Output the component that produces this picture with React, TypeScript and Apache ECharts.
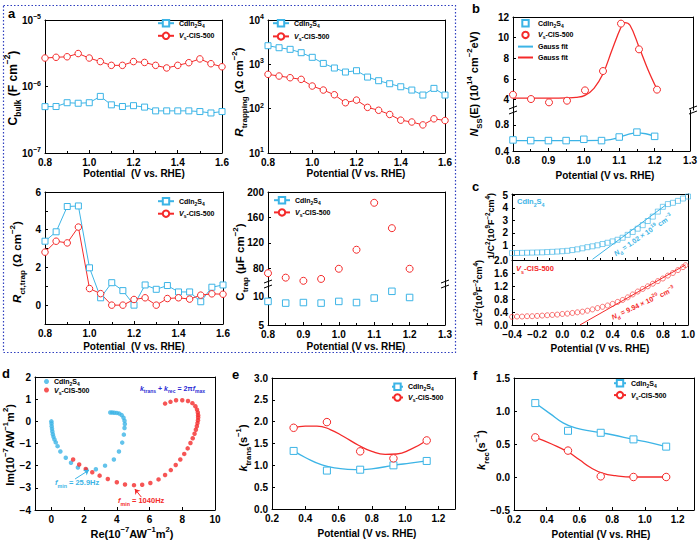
import React, { useEffect, useRef } from 'react';
import * as echarts from 'echarts';

const BLUE = '#3cb4e6';
const RED = '#f42a2a';
const FRAME_BLUE = '#2f3fbf';
const NOTE_BLUE = '#2b2bd4';
const FONT = '"Liberation Sans", Arial, Helvetica, sans-serif';

// ---- (a) impedance-derived quantities vs potential ----
const potA = [0.8, 0.85, 0.9, 0.95, 1.0, 1.05, 1.1, 1.15, 1.2, 1.25, 1.3, 1.35, 1.4, 1.45, 1.5, 1.55, 1.6];
const cbulkCIS = [4.98e-7, 5.0e-7, 5.7e-7, 5.6e-7, 5.7e-7, 7.1e-7, 5.3e-7, 5.0e-7, 5.15e-7, 4.9e-7, 4.3e-7, 4.3e-7, 4.3e-7, 4.3e-7, 4.2e-7, 4.0e-7, 4.2e-7];
const cbulkVs = [2.68e-6, 2.75e-6, 2.8e-6, 3.13e-6, 2.68e-6, 2.37e-6, 2.08e-6, 2.08e-6, 2.37e-6, 2.3e-6, 2.08e-6, 1.9e-6, 2.08e-6, 2.28e-6, 2.6e-6, 2.2e-6, 1.98e-6];
const rtrapCIS = [2630, 2370, 2180, 1830, 1440, 1050, 826, 670, 718, 516, 427, 365, 312, 263, 203, 287, 203];
const rtrapVs = [595, 545, 499, 458, 324, 263, 206, 136, 156, 107, 92, 74, 55, 50, 43, 59, 54];
const rctCIS = [3.39, 3.89, 5.23, 5.26, 1.98, 0.39, 1.19, 0.77, 0, 1.07, 0.84, 1.04, 0.7, 0.7, 0.18, 0.95, 1.07];
const rctVs = [2.81, 3.39, 3.3, 4.14, 0.88, 0.61, 0, 0, 0.3, 0.39, 0, 0.35, 0.39, 0.32, 0.53, 0.6, 0.58];
const potTrap = [0.8, 0.85, 0.9, 0.95, 1.0, 1.05, 1.1, 1.15, 1.2];
const ctrapCIS = [9.2, 8.9, 9.0, 8.9, 9.2, 9.0, 9.8, 11.0, 9.9];
const ctrapVs = [72, 65, 60, 63, 79, 109, 183, 143, 79];

// ---- (b) surface-state density ----
const nssCIS = [0.57, 0.56, 0.56, 0.56, 0.58, 0.56, 0.615, 0.69, 0.625];
const nssVs = [4.48, 4.06, 3.74, 3.9, 4.9, 6.77, 11.36, 8.87, 4.97];
const gaussPotCIS = [0.8, 0.9, 1.0, 1.05, 1.075, 1.1, 1.125, 1.15, 1.175, 1.2];
const gaussCIS = [0.56, 0.56, 0.56, 0.562, 0.575, 0.61, 0.655, 0.68, 0.665, 0.625];
const gaussPotVs = [0.8, 0.85, 0.9, 0.95, 0.975, 1.0, 1.025, 1.05, 1.075, 1.1, 1.11, 1.125, 1.15, 1.175, 1.2];
const gaussVs = [4.15, 4.15, 4.15, 4.17, 4.22, 4.42, 5.1, 6.5, 8.8, 11.0, 11.45, 11.2, 9.1, 6.9, 5.0];

// ---- (c) Mott-Schottky ----
const msPotCIS = [-0.4, -0.36, -0.32, -0.28, -0.24, -0.2, -0.16, -0.12, -0.08, -0.04, 0, 0.04, 0.08, 0.12, 0.16, 0.2, 0.24, 0.28, 0.32, 0.36, 0.4, 0.44, 0.48, 0.52, 0.56, 0.6, 0.64, 0.68, 0.72, 0.76, 0.8, 0.84, 0.88, 0.92, 0.96, 1.0];
const msCIS = [0.4, 0.41, 0.42, 0.43, 0.44, 0.45, 0.46, 0.48, 0.5, 0.52, 0.55, 0.58, 0.64, 0.7, 0.78, 0.87, 0.94, 1.02, 1.12, 1.22, 1.33, 1.46, 1.62, 1.85, 2.08, 2.34, 2.62, 2.95, 3.3, 3.7, 4.08, 4.3, 4.4, 4.55, 4.74, 4.9];
const msPotVs = [-0.4, -0.36, -0.32, -0.28, -0.24, -0.2, -0.16, -0.12, -0.08, -0.04, 0, 0.04, 0.08, 0.12, 0.16, 0.2, 0.24, 0.28, 0.32, 0.36, 0.4, 0.44, 0.48, 0.52, 0.56, 0.6, 0.64, 0.68, 0.72, 0.76, 0.8, 0.84, 0.88, 0.92, 0.96, 0.98];
const msVs = [0.25, 0.26, 0.26, 0.27, 0.27, 0.28, 0.29, 0.3, 0.31, 0.32, 0.34, 0.35, 0.37, 0.39, 0.41, 0.44, 0.48, 0.52, 0.56, 0.6, 0.65, 0.71, 0.77, 0.85, 0.94, 1.03, 1.11, 1.19, 1.27, 1.35, 1.43, 1.52, 1.6, 1.69, 1.78, 1.84];
const fitPotCIS = [0.24, 0.82];
const fitCIS = [-0.1, 4.2];
const fitPotVs = [0.14, 0.98];
const fitVs = [0, 1.85];

// ---- (d) IMPS Nyquist ----
const reCIS = [0, 0.01, 0.02, 0.04, 0.06, 0.09, 0.13, 0.19, 0.27, 0.38, 0.55, 0.88, 1.2, 1.62, 2.14, 2.72, 3.28, 3.82, 4.13, 4.33, 4.43, 4.47, 4.49, 4.47, 4.41, 4.3, 4.15, 4.0, 3.85, 3.72, 3.6];
const imCIS = [0, -0.1, -0.22, -0.34, -0.46, -0.58, -0.7, -0.82, -0.95, -1.12, -1.36, -1.64, -1.87, -2.08, -2.18, -2.16, -2.0, -1.72, -1.36, -0.96, -0.6, -0.3, -0.12, 0.03, 0.16, 0.28, 0.35, 0.38, 0.39, 0.4, 0.4];
const reVs = [1.33, 1.7, 2.1, 2.5, 2.95, 3.45, 4.0, 4.5, 5.05, 5.55, 6.05, 6.55, 6.95, 7.3, 7.6, 7.88, 8.12, 8.33, 8.5, 8.64, 8.75, 8.83, 8.89, 8.93, 8.96, 8.97, 8.97, 8.95, 8.9, 8.8, 8.62, 8.35, 8.0, 7.62, 7.28, 6.95];
const imVs = [-1.72, -1.95, -2.15, -2.3, -2.45, -2.6, -2.75, -2.85, -2.88, -2.86, -2.78, -2.62, -2.42, -2.2, -1.97, -1.72, -1.47, -1.22, -0.98, -0.76, -0.56, -0.38, -0.22, -0.08, 0.05, 0.17, 0.28, 0.4, 0.53, 0.68, 0.82, 0.92, 0.95, 0.95, 0.88, 0.8];

// ---- (e, f) rate constants ----
const potEF = [0.33, 0.53, 0.73, 0.93, 1.13];
const ktransCIS = [1.33, 0.88, 0.9, 1.0, 1.1];
const ktransVs = [1.86, 1.99, 1.32, 1.16, 1.57];
const krecCIS = [1.12, 0.7, 0.67, 0.57, 0.46];
const krecVs = [0.6, 0.4, 0.01, 0.0, 0.0];
const ktransFitPotCIS = [0.33, 0.4, 0.5, 0.6, 0.7, 0.8, 0.93, 1.03, 1.13];
const ktransFitCIS = [1.33, 1.18, 1.01, 0.93, 0.9, 0.92, 1.0, 1.05, 1.1];
const ktransFitPotVs = [0.33, 0.4, 0.47, 0.55, 0.63, 0.72, 0.8, 0.88, 0.95, 1.03, 1.13];
const ktransFitVs = [1.86, 1.9, 1.9, 1.82, 1.66, 1.46, 1.32, 1.25, 1.26, 1.36, 1.57];
const krecFitPotCIS = [0.33, 0.42, 0.5, 0.58, 0.68, 0.8, 0.93, 1.03, 1.13];
const krecFitCIS = [1.12, 0.96, 0.82, 0.74, 0.69, 0.64, 0.57, 0.52, 0.46];
const krecFitPotVs = [0.33, 0.43, 0.53, 0.6, 0.67, 0.74, 0.82, 0.93, 1.03, 1.13];
const krecFitVs = [0.6, 0.5, 0.38, 0.26, 0.14, 0.06, 0.02, 0.0, 0.0, 0.0];

const zip = (xs: number[], ys: number[]) => xs.map((x, i) => [x, ys[i]]);

const LEGEND_TEXT: Record<string, string> = {
  cis: '{n|CdIn}{s|2}{n|S}{s|4}',
  vs: '{i|V}{s|s}{n|-CIS-500}',
  fit1: '{n|Gauss fit}',
  fit2: '{n|Gauss fit}',
};

const minus = (v: number) => (v < 0 ? '\u2212' : '');
const f1 = (v: number) => minus(v) + Math.abs(v).toFixed(1);
const f0 = (v: number) => minus(v) + Math.abs(v).toFixed(0);
const fStep = (step: number) => (v: number) =>
  Math.abs(v / step - Math.round(v / step)) < 1e-6 ? f1(v) : '';
const fEven = (v: number) => (v >= 0 && Math.round(v) % 2 === 0 ? String(Math.round(v)) : '');
const fLog = (v: number) => {
  const e = Math.round(Math.log10(v));
  return `{n|10}{p|${minus(e)}${Math.abs(e)}}`;
};

const TICK_FONT = { color: '#000', fontFamily: FONT, fontSize: 10, fontWeight: 'bold' as const };
const AXIS_RICH = {
  n: { ...TICK_FONT, lineHeight: 14 },
  p: { ...TICK_FONT, fontSize: 7, verticalAlign: 'top' as const },
};

type Ax = {
  min: number; max: number; log?: boolean; interval?: number;
  labels?: number[]; fmt?: (v: number) => string; minor?: number;
};

function richFor(size: number, color: string) {
  const base = { fontFamily: FONT, fontWeight: 'bold', fill: color, color };
  const lh = Math.round(size * 1.6);
  const small = Math.max(5, Math.round(size * 0.7 * 10) / 10);
  return {
    n: { ...base, fontSize: size, lineHeight: lh },
    i: { ...base, fontSize: size, fontStyle: 'italic', lineHeight: lh },
    s: { ...base, fontSize: small, verticalAlign: 'bottom' },
    p: { ...base, fontSize: small, verticalAlign: 'top' },
  };
}

function txt(x: number, y: number, text: string, size: number, color = '#000', rotation = 0, align = 'center') {
  return {
    type: 'text', x, y, rotation, z: 50,
    style: {
      text, rich: richFor(size, color), font: `bold ${size}px ${FONT}`, fill: color,
      align, verticalAlign: 'middle', textAlign: align, textVerticalAlign: 'middle',
    },
  };
}

function breakMark(x: number, y: number) {
  return {
    type: 'group', x, y, z: 60,
    children: [
      { type: 'rect', shape: { x: -4, y: -3, width: 8, height: 6 }, style: { fill: '#fff' } },
      { type: 'line', shape: { x1: -4, y1: -1, x2: 4, y2: -4 }, style: { stroke: '#000', lineWidth: 1 } },
      { type: 'line', shape: { x1: -4, y1: 4, x2: 4, y2: 1 }, style: { stroke: '#000', lineWidth: 1 } },
    ],
  };
}

function buildOption() {
  const grid: any[] = [];
  const xAxis: any[] = [];
  const yAxis: any[] = [];
  const series: any[] = [];

  const axisOf = (g: number, a: Ax, position: string, primary: boolean, showLine = true, showLabels = true) => {
    const o: any = {
      gridIndex: g, type: a.log ? 'log' : 'value', position, min: a.min, max: a.max,
      splitLine: { show: false },
      axisLine: { show: showLine, onZero: false, lineStyle: { color: '#000', width: 1 } },
      axisTick: { show: primary && showLine, inside: true, length: 3, lineStyle: { color: '#000', width: 1 } },
      axisLabel: { show: primary && showLabels, margin: 4, ...TICK_FONT, rich: AXIS_RICH },
    };
    if (a.log) o.logBase = 10;
    if (a.interval != null) o.interval = a.interval;
    if (primary) {
      if (a.fmt) o.axisLabel.formatter = a.fmt;
      if (a.labels) {
        o.axisLabel.customValues = a.labels;
        o.axisTick.customValues = a.labels;
      }
      if (a.minor && showLine) o.minorTick = { show: true, splitNumber: a.minor, length: 2, lineStyle: { color: '#000', width: 1 } };
    }
    return o;
  };

  const panel = (rect: number[], xa: Ax, ya: Ax, edges = { top: true, bottom: true, labels: true }) => {
    grid.push({ left: rect[0], top: rect[1], width: rect[2], height: rect[3] });
    const g = grid.length - 1;
    const x = xAxis.length;
    xAxis.push(axisOf(g, xa, 'bottom', true, edges.bottom, edges.labels));
    xAxis.push(axisOf(g, xa, 'top', false, edges.top));
    const y = yAxis.length;
    yAxis.push(axisOf(g, ya, 'left', true));
    yAxis.push(axisOf(g, ya, 'right', false));
    return { x, y };
  };

  // hollow marker: white face, coloured 1px outline
  const lineS = (name: string, ax: { x: number; y: number }, xs: number[], ys: number[], color: string, symbol: string, size: number, extra: any = {}) => ({
    type: 'line', name, xAxisIndex: ax.x, yAxisIndex: ax.y, data: zip(xs, ys), color,
    symbol, symbolSize: size, showSymbol: symbol !== 'none',
    lineStyle: { color, width: 1 }, itemStyle: { color: '#fff', borderColor: color, borderWidth: 1 },
    z: 3, ...extra,
  });

  const UPPER = { top: true, bottom: false, labels: false };
  const LOWER = { top: false, bottom: true, labels: true };
  const noLine = (c: string, w = 1) => ({ lineStyle: { color: c, width: w, opacity: 0 } });

  // a: Cbulk
  const xa: Ax = { min: 0.8, max: 1.6, interval: 0.2, minor: 2, fmt: f1 };
  const a1 = panel([45, 20, 177, 133], xa, { min: 1e-7, max: 1e-5, log: true, fmt: fLog });
  series.push(lineS('a1:cis', a1, potA, cbulkCIS, BLUE, 'rect', 6));
  series.push(lineS('a1:vs', a1, potA, cbulkVs, RED, 'circle', 6.5));
  // a: Rtrapping
  const a2 = panel([268, 20, 177, 133], xa, { min: 10, max: 1e4, log: true, fmt: fLog });
  series.push(lineS('a2:cis', a2, potA, rtrapCIS, BLUE, 'rect', 6));
  series.push(lineS('a2:vs', a2, potA, rtrapVs, RED, 'circle', 6.5));
  // a: Rct,trap
  const a3 = panel([45, 192, 178, 132], xa, { min: -1, max: 6, interval: 1, fmt: fEven });
  series.push(lineS('a3:cis', a3, potA, rctCIS, BLUE, 'rect', 6));
  series.push(lineS('a3:vs', a3, potA, rctVs, RED, 'circle', 6.5));
  // a: Ctrap (broken axis)
  const xTrap: Ax = { min: 0.8, max: 1.3, interval: 0.1, minor: 2, fmt: f1 };
  const a4u = panel([268, 192, 177, 92], xTrap, { min: 55, max: 200, labels: [80, 120, 160, 200] }, UPPER);
  const a4l = panel([268, 284, 177, 41], xTrap, { min: 5, max: 12.3, labels: [5, 10] }, LOWER);
  series.push(lineS('a4:vs', a4u, potTrap, ctrapVs, RED, 'circle', 7, noLine(RED)));
  series.push(lineS('a4:cis', a4l, potTrap, ctrapCIS, BLUE, 'rect', 6.5, noLine(BLUE)));

  // b: Nss with Gaussian fits (broken axis)
  const xb: Ax = { min: 0.8, max: 1.3, interval: 0.1, minor: 2, fmt: f1 };
  const bu = panel([513, 17, 180, 93], xb, { min: 3, max: 12, labels: [4, 6, 8, 10, 12] }, UPPER);
  const bl = panel([513, 110, 180, 41], xb, { min: 0.4, max: 1.03, labels: [0.4, 0.8], fmt: f1 }, LOWER);
  series.push(lineS('b:cis', bl, potTrap, nssCIS, BLUE, 'rect', 6.5, { ...noLine(BLUE), z: 4 }));
  series.push(lineS('b:vs', bu, potTrap, nssVs, RED, 'circle', 7, { ...noLine(RED), z: 4 }));
  series.push(lineS('b:fit1', bl, gaussPotCIS, gaussCIS, BLUE, 'none', 0, { smooth: 0.4, lineStyle: { color: BLUE, width: 1.3 } }));
  series.push(lineS('b:fit2', bu, gaussPotVs, gaussVs, RED, 'none', 0, { smooth: 0.4, lineStyle: { color: RED, width: 1.3 } }));

  // c: Mott-Schottky (stacked)
  const xc: Ax = { min: -0.4, max: 1.0, interval: 0.2, minor: 2, fmt: f1 };
  const cu = panel([512, 194, 176, 66], xc, { min: -0.15, max: 5.1, labels: [1, 2, 3, 4, 5] }, { top: true, bottom: true, labels: false });
  const cl = panel([512, 260, 176, 65], xc, { min: 0, max: 2, interval: 0.4, fmt: f1 }, LOWER);
  series.push({
    type: 'scatter', name: 'c:cis', xAxisIndex: cu.x, yAxisIndex: cu.y, data: zip(msPotCIS, msCIS),
    symbol: 'rect', symbolSize: 5, itemStyle: { color: 'rgba(255,255,255,0)', borderColor: BLUE, borderWidth: 0.8 },
  });
  series.push(lineS('c:fitcis', cu, fitPotCIS, fitCIS, BLUE, 'none', 0));
  series.push({
    type: 'scatter', name: 'c:vs', xAxisIndex: cl.x, yAxisIndex: cl.y, data: zip(msPotVs, msVs),
    symbol: 'circle', symbolSize: 5, itemStyle: { color: 'rgba(255,255,255,0)', borderColor: RED, borderWidth: 0.8 },
  });
  series.push(lineS('c:fitvs', cl, fitPotVs, fitVs, RED, 'none', 0));

  // d: IMPS
  const d = panel([35, 377, 180, 133], { min: -1, max: 10, labels: [0, 2, 4, 6, 8, 10], fmt: f0 }, { min: -4, max: 2, interval: 1, fmt: f0 });
  series.push({
    type: 'scatter', name: 'd:cis', xAxisIndex: d.x, yAxisIndex: d.y, data: zip(reCIS, imCIS),
    symbol: 'circle', symbolSize: 4.5, itemStyle: { color: BLUE },
    markLine: {
      silent: true, symbol: ['none', 'arrow'], symbolSize: 5, label: { show: false },
      lineStyle: { color: BLUE, width: 1, type: 'solid' },
      data: [[{ coord: [1.45, -2.6] }, { coord: [2.3, -2.2] }]],
    },
  });
  series.push({
    type: 'scatter', name: 'd:vs', xAxisIndex: d.x, yAxisIndex: d.y, data: zip(reVs, imVs),
    symbol: 'circle', symbolSize: 4.5, itemStyle: { color: RED },
    markLine: {
      silent: true, symbol: ['none', 'arrow'], symbolSize: 5, label: { show: false },
      lineStyle: { color: RED, width: 1, type: 'solid' },
      data: [[{ coord: [5.5, -3.42] }, { coord: [5.1, -3.05] }]],
    },
  });

  // e: k_trans
  const xef: Ax = { min: 0.2, max: 1.3, interval: 0.2, fmt: fStep(0.2) };
  const e = panel([272, 378, 183, 131], xef, { min: 0, max: 3, interval: 0.5, fmt: f1 });
  series.push(lineS('e:cisfit', e, ktransFitPotCIS, ktransFitCIS, BLUE, 'none', 0, { smooth: 0.5, lineStyle: { color: BLUE, width: 1.3 } }));
  series.push(lineS('e:vsfit', e, ktransFitPotVs, ktransFitVs, RED, 'none', 0, { smooth: 0.5, lineStyle: { color: RED, width: 1.3 } }));
  series.push(lineS('e:cis', e, potEF, ktransCIS, BLUE, 'rect', 7, { ...noLine(BLUE, 1.3), z: 5 }));
  series.push(lineS('e:vs', e, potEF, ktransVs, RED, 'circle', 7.5, { ...noLine(RED, 1.3), z: 5 }));

  // f: k_rec
  const f = panel([514, 378, 180, 132], xef, { min: -0.5, max: 1.5, interval: 0.5, fmt: f1 });
  series.push(lineS('f:cisfit', f, krecFitPotCIS, krecFitCIS, BLUE, 'none', 0, { smooth: 0.5, lineStyle: { color: BLUE, width: 1.3 } }));
  series.push(lineS('f:vsfit', f, krecFitPotVs, krecFitVs, RED, 'none', 0, { smooth: 0.5, lineStyle: { color: RED, width: 1.3 } }));
  series.push(lineS('f:cis', f, potEF, krecCIS, BLUE, 'rect', 7, { ...noLine(BLUE, 1.3), z: 5 }));
  series.push(lineS('f:vs', f, potEF, krecVs, RED, 'circle', 7.5, { ...noLine(RED, 1.3), z: 5 }));

  const legendRich = {
    n: { fontFamily: FONT, fontWeight: 'bold', fontSize: 7, color: '#000', lineHeight: 10 },
    i: { fontFamily: FONT, fontWeight: 'bold', fontStyle: 'italic', fontSize: 7, color: '#000', lineHeight: 10 },
    s: { fontFamily: FONT, fontWeight: 'bold', fontSize: 5, color: '#000', verticalAlign: 'bottom' },
  };
  const legend = (data: any[], left: number, top: number, gap: number, iw = 16, ih = 8, extra: any = {}) => ({
    data, left, top, orient: 'vertical', padding: 0, itemGap: gap, itemWidth: iw, itemHeight: ih,
    selectedMode: false,
    formatter: (n: string) => LEGEND_TEXT[n.split(':')[1]],
    textStyle: { fontFamily: FONT, fontSize: 7, fontWeight: 'bold', color: '#000', rich: legendRich },
    ...extra,
  });
  const withLine = (n: string) => ({ name: n, lineStyle: { opacity: 1 } });
  const lineOnly = (n: string) => ({ name: n, itemStyle: { opacity: 0 } });
  const legends = [
    legend(['a1:cis', 'a1:vs'], 157, 19, 3.4),
    legend(['a2:cis', 'a2:vs'], 272, 19, 4),
    legend(['a3:cis', 'a3:vs'], 157, 197, 3.3),
    legend([withLine('a4:cis'), withLine('a4:vs')], 273, 196, 3),
    legend(['b:cis', 'b:vs', lineOnly('b:fit1'), lineOnly('b:fit2')], 517, 19, 2.5, 15),
    legend(['d:cis', 'd:vs'], 44, 378, 0, 5, 5),
    legend([withLine('e:cis'), withLine('e:vs')], 391, 382.5, 1.6, 11),
    legend([withLine('f:cis'), withLine('f:vs')], 613, 379, 2.7, 12),
  ];

  const PI2 = Math.PI / 2;
  const deg = (a: number) => (a * Math.PI) / 180;
  const potTitle = '{n|Potential (V vs. RHE)}';
  const graphic: any[] = [
    // dotted frame around panel a
    {
      type: 'rect', z: 40, shape: { x: 3.5, y: 5.5, width: 452, height: 347 },
      style: { fill: 'none', stroke: FRAME_BLUE, lineWidth: 1.2, lineDash: [1.5, 2] },
    },
    txt(8, 13, '{n|a}', 13, '#000', 0, 'left'),
    txt(472, 8, '{n|b}', 13, '#000', 0, 'left'),
    txt(472, 186, '{n|c}', 13, '#000', 0, 'left'),
    txt(2, 373, '{n|d}', 13, '#000', 0, 'left'),
    txt(232, 374, '{n|e}', 13, '#000', 0, 'left'),
    txt(473, 375, '{n|f}', 13, '#000', 0, 'left'),

    txt(12.5, 88, '{n|C}{s|bulk}{n| (F cm}{p|\u22122}{n|)}', 12, '#000', PI2),
    txt(239, 92, '{i|R}{s|trapping}{n| (\u03a9 cm}{p|\u22122}{n|)}', 11.5, '#000', PI2),
    txt(17, 262, '{i|R}{s|ct,trap}{n| (\u03a9 cm}{p|\u22122}{n|)}', 11.5, '#000', PI2),
    txt(240, 262, '{n|C}{s|trap}{n| (\u03bcF cm}{p|\u22122}{n|)}', 11.5, '#000', PI2),
    txt(134, 173, '{n|Potential  (V vs. RHE)}', 10),
    txt(356, 173, potTitle, 10),
    txt(134, 346, '{n|Potential  (V vs. RHE)}', 10),
    txt(356, 346, potTitle, 10),

    txt(474, 84, '{i|N}{s|SS}{n|(E) (10}{p|14}{n| cm}{p|\u22122}{n|eV)}', 11, '#000', PI2),
    txt(605, 175, potTitle, 10),

    txt(491, 226, '{n|1/C}{p|2}{n|(10}{p|9}{n|F}{p|\u22122}{n|cm}{p|4}{n|)}', 9, '#000', PI2),
    txt(479, 293, '{n|1/C}{p|2}{n|(10}{p|9}{n|F}{p|\u22122}{n|cm}{p|4}{n|)}', 9, '#000', PI2),
    txt(600, 348, potTitle, 10),
    txt(517, 201, '{n|CdIn}{s|2}{n|S}{s|4}', 7.5, BLUE, 0, 'left'),
    txt(516, 268, '{i|V}{s|s}{n|-CIS-500}', 7.5, RED, 0, 'left'),
    txt(643, 235, '{i|N}{s|d}{n| = 1.02 \u00d7 10}{p|19}{n| cm}{p|\u22123}', 7, BLUE, deg(34)),
    txt(643, 303, '{i|N}{s|d}{n| = 9.94 \u00d7 10}{p|20}{n| cm}{p|\u22123}', 7, RED, deg(25)),

    txt(10, 445, '{n|Im(10}{p|\u22127}{n|AW}{p|\u22121}{n|m}{p|2}{n|)}', 11, '#000', PI2),
    txt(132, 534, '{n|Re(10}{p|\u22127}{n|AW}{p|\u22121}{n|m}{p|2}{n|)}', 11, '#000'),
    txt(205, 388, '{i|k}{s|trans}{n| + }{i|k}{s|rec}{n| = 2\u03c0}{i|f}{s|max}', 7, NOTE_BLUE, 0, 'right'),
    txt(55, 482, '{i|f}{s|min}{n| = 25.9Hz}', 7.5, BLUE, 0, 'left'),
    txt(118, 500, '{i|f}{s|min}{n| = 1040Hz}', 7.5, RED, 0, 'left'),

    txt(243, 448, '{i|k}{s|trans}{n|(s}{p|\u22121}{n|)}', 11, '#000', PI2),
    txt(367, 533, potTitle, 10),
    txt(481, 450, '{i|k}{s|rec}{n|(s}{p|\u22121}{n|)}', 11, '#000', PI2),
    txt(601, 534, potTitle, 10),

    breakMark(268, 284), breakMark(445, 284),
    breakMark(513, 110), breakMark(693, 110),
  ];

  return {
    animation: false,
    backgroundColor: '#fff',
    textStyle: { fontFamily: FONT },
    grid, xAxis, yAxis, series, legend: legends, graphic,
  };
}

export default function App() {
  const ref = useRef<HTMLDivElement>(null);
  useEffect(() => {
    if (!ref.current) return;
    const chart = echarts.init(ref.current, null, { renderer: 'svg' });
    chart.setOption(buildOption() as any);
    return () => chart.dispose();
  }, []);
  return (
    <div
      ref={ref}
      style={{ position: 'fixed', left: 0, top: 0, width: 700, height: 542, background: '#fff' }}
    />
  );
}
